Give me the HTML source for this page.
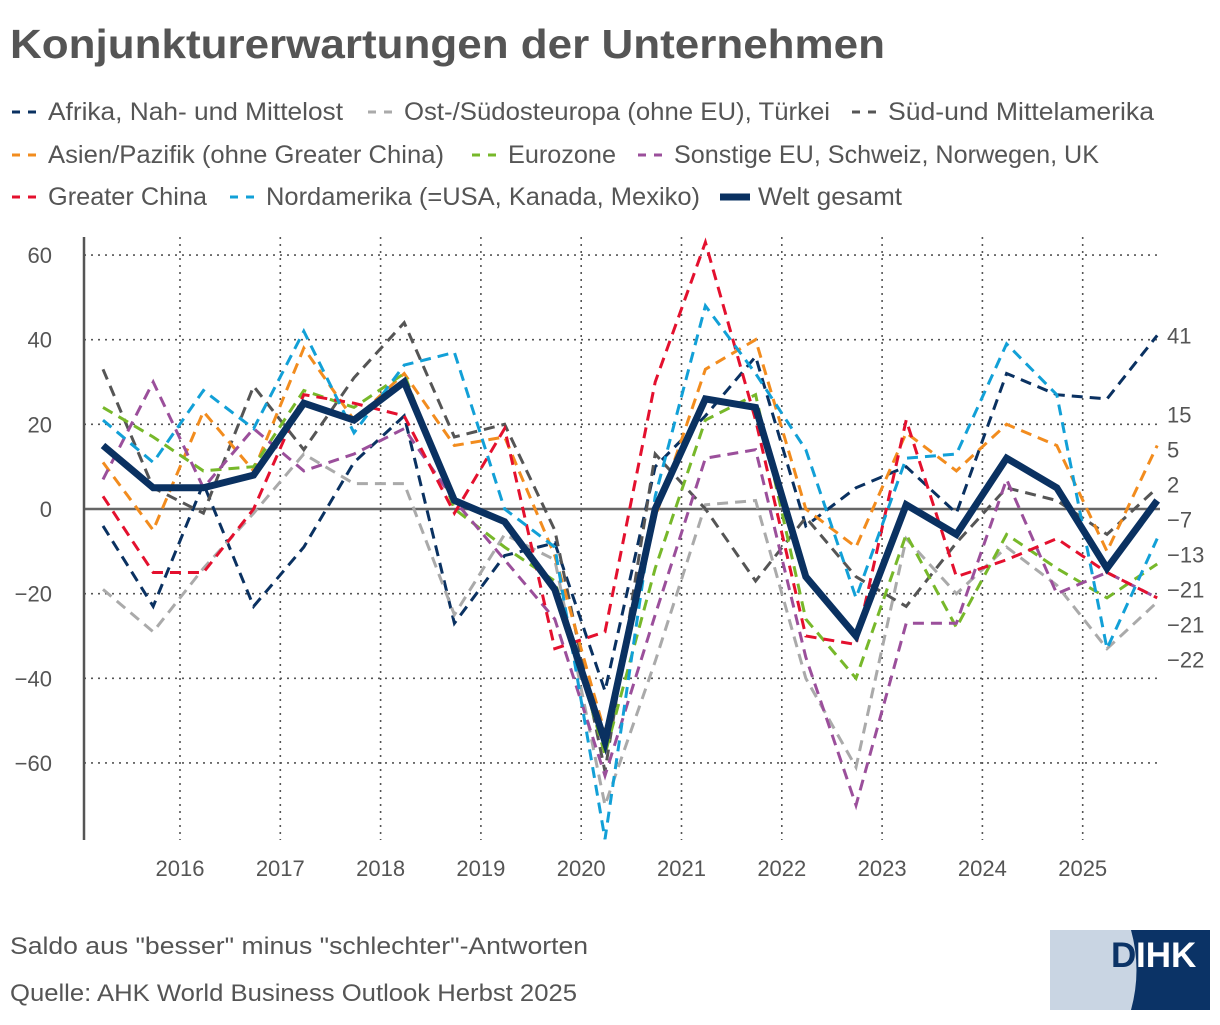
<!DOCTYPE html>
<html><head><meta charset="utf-8"><style>
html,body{margin:0;padding:0;background:#fff;}
body{width:1220px;height:1020px;overflow:hidden;font-family:"Liberation Sans",sans-serif;}
svg text{font-family:"Liberation Sans",sans-serif;fill:#555;}
</style></head><body>
<svg id="chart" width="1220" height="1020" xmlns="http://www.w3.org/2000/svg">
<text x="10" y="58" font-size="41" font-weight="bold" textLength="875" lengthAdjust="spacingAndGlyphs">Konjunkturerwartungen der Unternehmen</text>
<g id="legend"></g>
<g id="grid"></g>
<g id="series"></g>
<g id="labels"></g>
<text x="10" y="954" font-size="24" textLength="578" lengthAdjust="spacingAndGlyphs">Saldo aus "besser" minus "schlechter"-Antworten</text>
<text x="10" y="1001" font-size="24" textLength="567" lengthAdjust="spacingAndGlyphs">Quelle: AHK World Business Outlook Herbst 2025</text>
<g>
<rect x="1050" y="930" width="160" height="80" fill="#c9d5e3"/>
<path d="M1131,930 Q1142,970 1131,1010 L1210,1010 L1210,930 Z" fill="#0b3366"/>
<text x="1111" y="967" font-size="35" font-weight="bold" style="fill:#0b3366">D</text>
<text x="1136" y="967" font-size="35" font-weight="bold" style="fill:#fff">IHK</text>
</g>
</svg>
<script>
const yearTicks = [2016,2017,2018,2019,2020,2021,2022,2023,2024,2025];
const yTicks = [60,40,20,0,-20,-40,-60];
const seriesNames = ["Afrika, Nah- und Mittelost","Ost-/Südosteuropa (ohne EU), Türkei","Süd-und Mittelamerika","Asien/Pazifik (ohne Greater China)","Eurozone","Sonstige EU, Schweiz, Norwegen, UK","Greater China","Nordamerika (=USA, Kanada, Mexiko)","Welt gesamt"];
const afrika = [-4,-23,6,-23,-9,11,22,-27,-11,-8,-43,10,22,36,-4,5,10,-1,32,27,26,41];
const ost = [-19,-29,-14,-1,13,6,6,-25,-6,-12,-70,-36,1,2,-40,-61,-7,-20,-9,-18,-33,-22];
const sued = [33,5,-1,29,14,31,44,17,20,-5,-62,13,0,-17,-2,-16,-23,-8,5,2,-6,5];
const asien = [11,-5,23,9,38,21,32,15,17,-11,-53,-2,33,40,0,-9,18,9,20,15,-10,15];
const euro = [24,17,9,10,28,24,32,0,-9,-17,-58,-14,21,27,-26,-40,-6,-28,-6,-14,-21,-13];
const sonst = [7,30,5,19,9,13,19,2,-12,-26,-63,-25,12,14,-35,-70,-27,-27,7,-20,-15,-21];
const china = [3,-15,-15,0,27,25,22,-1,19,-33,-29,30,63,21,-30,-32,21,-16,-12,-7,-15,-21];
const nord = [21,11,28,19,42,18,34,37,0,-9,-78,3,48,32,14,-21,12,13,39,27,-33,-7];
const welt = [15,5,5,8,25,21,30,2,-3,-19,-55,0,26,24,-16,-30,1,-6,12,5,-14,2];
const allSeries = [afrika,ost,sued,asien,euro,sonst,china,nord,welt];
const colors = ["#0a3161","#aaaaaa","#555555","#f28c1e","#77b82a","#9b4f9b","#e4102e","#12a0d7","#0a3161"];
const NS="http://www.w3.org/2000/svg";
const x0=103, dx=50.2, plotL=84, plotR=1160, plotT=237, plotB=840;
function xi(i){return x0+dx*i;}
function ys(v){return 509-v*4.233;}
function xYear(y){return 180+(y-2016)*100.3;}
function mk(tag,attrs,parent){const e=document.createElementNS(NS,tag);for(const k in attrs)e.setAttribute(k,attrs[k]);parent.appendChild(e);return e;}
const grid=document.getElementById('grid');
yTicks.forEach(t=>{
  const l=mk('line',{x1:plotL,x2:plotR,y1:ys(t),y2:ys(t),stroke:t===0?'#666':'#555','stroke-width':t===0?2.5:1.6,'stroke-dasharray':t===0?'none':'2 5'},grid);
  
  
  const tx=mk('text',{x:52,y:ys(t)+8,'font-size':22,'text-anchor':'end'},grid);
  tx.textContent=(t<0?'\u2212'+(-t):String(t));
  
  
});
yearTicks.forEach(y=>{
  const l=mk('line',{x1:xYear(y),x2:xYear(y),y1:plotT,y2:plotB,stroke:'#555','stroke-width':1.6,'stroke-dasharray':'2 5'},grid);
  
  
  const tx=mk('text',{x:xYear(y),y:876,'font-size':22,'text-anchor':'middle'},grid);
  tx.textContent=String(y);
  
  
});
const ax=mk('line',{x1:plotL,x2:plotL,y1:plotT,y2:plotB,stroke:'#555','stroke-width':2.5},grid);


const sg=document.getElementById('series');
allSeries.forEach((d,s)=>{
  const pts=d.map((v,i)=>xi(i).toFixed(1)+','+ys(v).toFixed(1)).join(' ');
  const isW=s===8;
  const p=mk('polyline',{points:pts,fill:'none',stroke:colors[s],'stroke-width':isW?7:3,'stroke-dasharray':isW?'none':'11 7','stroke-linejoin':'miter'},sg);
  
  
});
// end labels: cluster-based overlap resolution
const lg=document.getElementById('labels');
const ends=allSeries.map(d=>d[d.length-1]).sort((a,b)=>b-a);
const gap=35;
let clusters=ends.map(v=>({ideal:[ys(v)],top:ys(v)}));
let changed=true;
while(changed){
  changed=false;
  for(let k=0;k<clusters.length-1;k++){
    const a=clusters[k], b=clusters[k+1];
    if(a.top+(a.ideal.length-1)*gap+gap>b.top){
      const ideal=a.ideal.concat(b.ideal);
      const mean=ideal.reduce((s,x)=>s+x,0)/ideal.length;
      clusters.splice(k,2,{ideal:ideal,top:mean-(ideal.length-1)*gap/2-5});
      changed=true;break;
    }
  }
}
const pos=[];clusters.forEach(c=>c.ideal.forEach((_,j)=>pos.push(c.top+j*gap)));
ends.forEach((v,k)=>{
  const t=mk('text',{x:1167,y:pos[k]+8,'font-size':22},lg);
  t.textContent=(v<0?'\u2212'+(-v):String(v));
  
  
});
// legend
const leg=document.getElementById('legend');
const legPos=[[10,120],[366,120],[850,120],[10,163],[470,163],[636,163],[10,205],[228,205],[720,205]];
const legW=[295,426,266,396,108,425,159,434,144];
seriesNames.forEach((n,s)=>{
  const [lx,ly]=legPos[s];
  const g=mk('g',{},leg);
  
  
  const isW=s===8;
  mk('line',{x1:lx,x2:lx+30,y1:ly-8,y2:ly-8,stroke:colors[s],'stroke-width':isW?7:3,'stroke-dasharray':isW?'none':'8 8','stroke-dashoffset':-2},g);
  const t=mk('text',{x:lx+38,y:ly,'font-size':25,textLength:legW[s],lengthAdjust:'spacingAndGlyphs'},g);
  t.textContent=n;
});
</script>
</body></html>
